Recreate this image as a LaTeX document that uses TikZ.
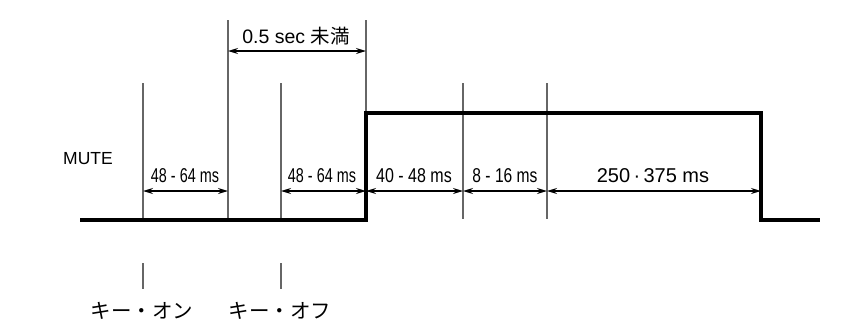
\documentclass[tikz,border=0pt]{standalone}
\usepackage{fontspec}
\usepackage{graphicx}
\setmainfont{Liberation Sans}
\newfontfamily\cjk{Noto Sans CJK JP}
\usetikzlibrary{arrows.meta}
\tikzset{
  guide/.style={draw=black!60, line width=1.4pt},
  dim/.style={draw=black, line width=1.3pt, {Stealth[length=10pt,width=6pt]}-{Stealth[length=10pt,width=6pt]}},
  signal/.style={draw=black, line width=3.3pt, line join=miter},
  lbl/.style={font=\fontsize{20}{22}\selectfont, inner sep=0pt, anchor=base},
  jlbl/.style={font=\fontsize{20.5}{22}\selectfont\cjk, inner sep=0pt},
}
\begin{document}
\begin{tikzpicture}[x=1pt,y=-1pt]
\useasboundingbox (0,0) rectangle (848,322);
% coordinates
\coordinate (s0) at (80,220);
\coordinate (r0) at (366,220);
\coordinate (r1) at (366,113);
\coordinate (f1) at (761,113);
\coordinate (f0) at (761,220);
\coordinate (s1) at (820,220);
% guides
\coordinate (a1) at (143,83);  \coordinate (a0) at (143,219);
\coordinate (b1) at (228,20);  \coordinate (b0) at (228,219);
\coordinate (c1) at (281,83);  \coordinate (c0) at (281,219);
\coordinate (d1) at (366,20);  \coordinate (d0) at (366,113);
\coordinate (e1) at (463,83);  \coordinate (e0) at (463,219);
\coordinate (g1) at (547,83);  \coordinate (g0) at (547,219);
\draw[guide] (a1) -- (a0);
\draw[guide] (b1) -- (b0);
\draw[guide] (c1) -- (c0);
\draw[guide] (d1) -- (d0);
\draw[guide] (e1) -- (e0);
\draw[guide] (g1) -- (g0);
% signal
\draw[signal] (s0) -- (r0) -- (r1) -- (f1) -- (f0) -- (s1);
% dimension arrows
\coordinate (ya) at (143,191); \coordinate (yb) at (228,191);
\coordinate (yc) at (281,191); \coordinate (yd) at (366,191);
\coordinate (ye) at (463,191); \coordinate (yg) at (547,191);
\coordinate (yf) at (761,191);
\draw[dim] (ya) -- (yb);
\draw[dim] (yc) -- (yd);
\draw[dim] (yd) -- (ye);
\draw[dim] (ye) -- (yg);
\draw[dim] (yg) -- (yf);
\coordinate (tb) at (228,51); \coordinate (td) at (366,51);
\draw[dim] (tb) -- (td);
% labels
\node[lbl] (l1) at (185,182) {\scalebox{0.72}[1]{48 - 64 ms}};
\node[lbl] (l2) at (322,182) {\scalebox{0.72}[1]{48 - 64 ms}};
\node[lbl] (l3) at (414,182) {\scalebox{0.80}[1]{40 - 48 ms}};
\node[lbl] (l4) at (505,182) {\scalebox{0.78}[1]{8 - 16 ms}};
\node[lbl] (l5) at (653,182) {250\,·\,375 ms};
\node[font=\fontsize{19.5}{20}\selectfont, inner sep=0pt, anchor=base] (top) at (296,43) {0.5 sec {\cjk 未満}};
\node[font=\fontsize{17.5}{20}\selectfont, inner sep=0pt, anchor=base west] (mute) at (63,164) {MUTE};
% key markers
\coordinate (k1) at (143,263); \coordinate (k0) at (143,289);
\coordinate (m1) at (281,263); \coordinate (m0) at (281,289);
\draw[guide] (k1) -- (k0);
\draw[guide] (m1) -- (m0);
\node[jlbl] (kon) at (142,311) {キー・オン};
\node[jlbl] (koff) at (280,311) {キー・オフ};
\end{tikzpicture}
\end{document}
